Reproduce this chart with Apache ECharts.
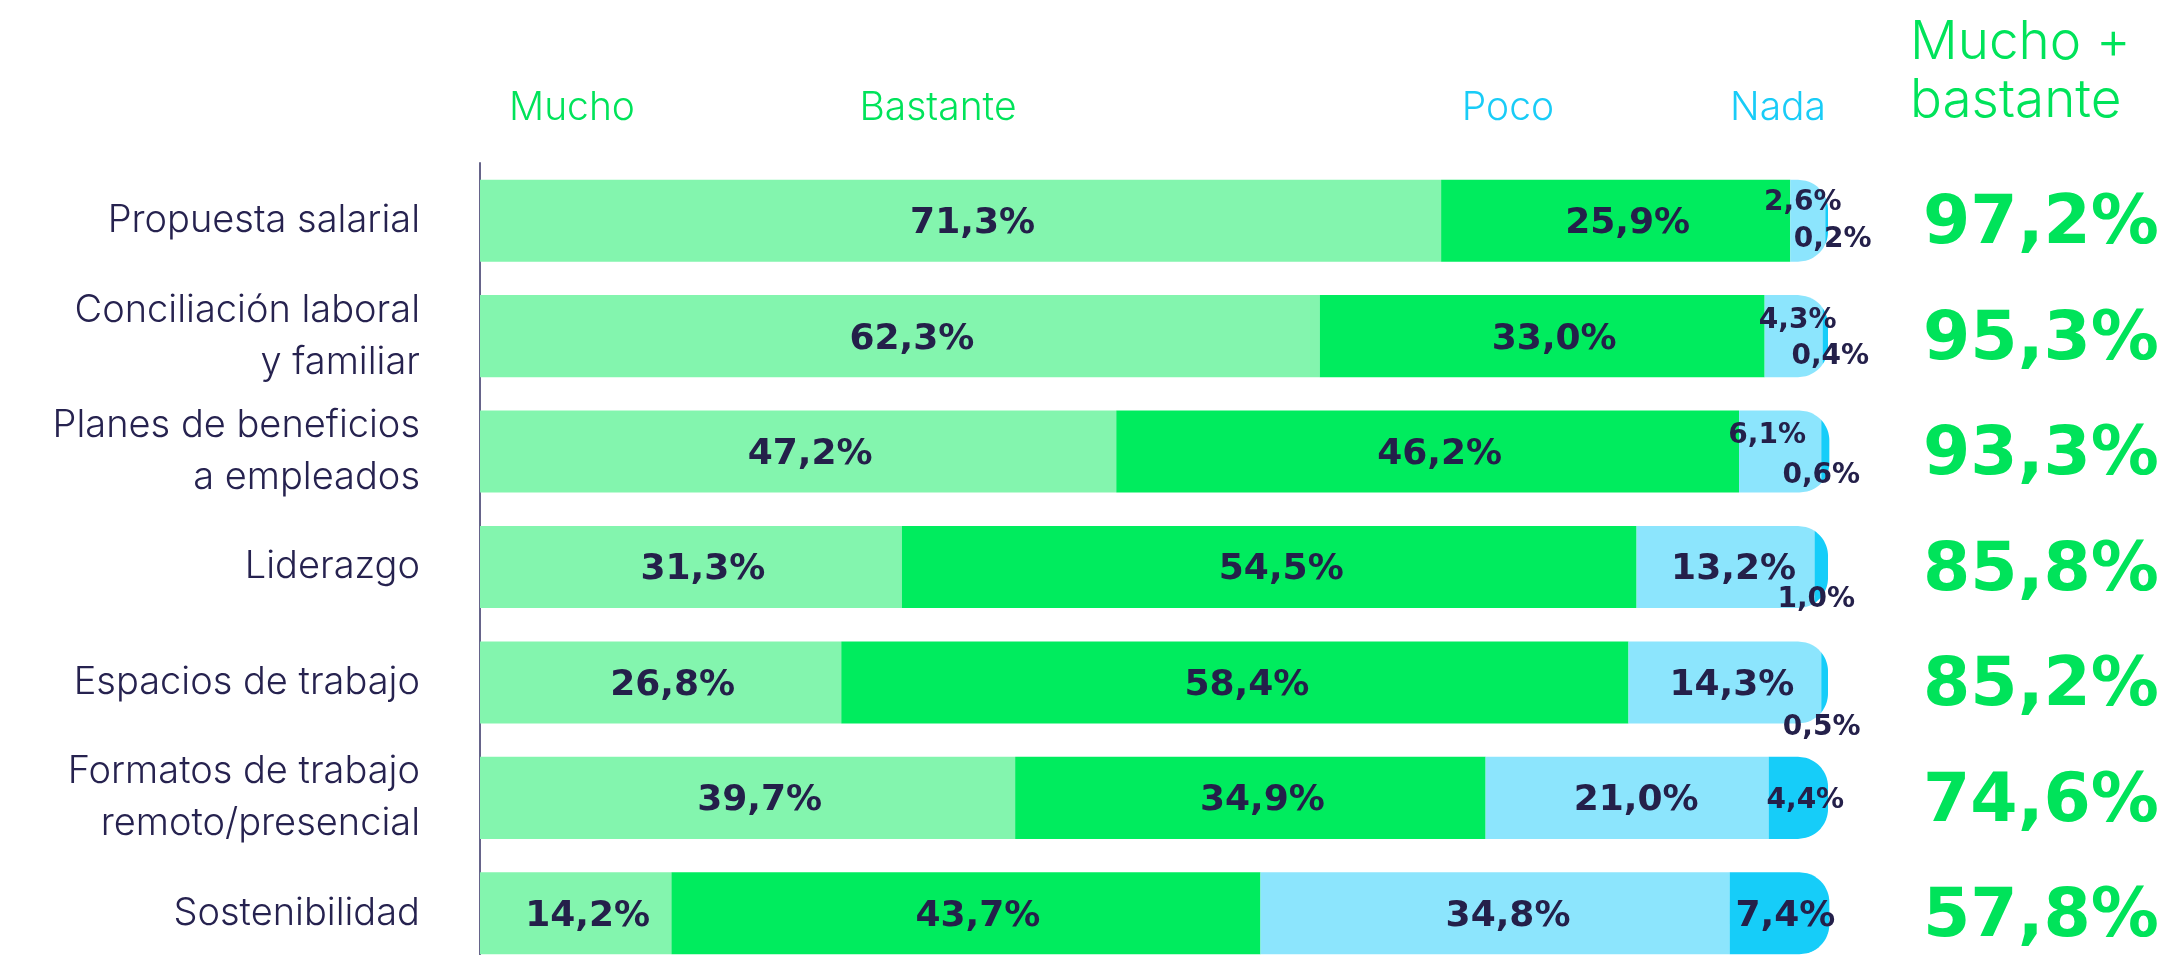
<!DOCTYPE html>
<html>
<head>
<meta charset="utf-8">
<script src="https://cdn.jsdelivr.net/npm/echarts@6/dist/echarts.min.js"></script>
<style>
  html, body { margin: 0; padding: 0; background: #ffffff; }
  #chart { width: 2177px; height: 955px; }
</style>
</head>
<body>
<div id="chart"></div>
<script>
// Importance of each workplace factor (% of respondents)
const categories = [
  'Propuesta salarial',
  'Conciliación laboral\ny familiar',
  'Planes de beneficios\na empleados',
  'Liderazgo',
  'Espacios de trabajo',
  'Formatos de trabajo\nremoto/presencial',
  'Sostenibilidad'
];
const levelNames = ['Mucho', 'Bastante', 'Poco', 'Nada'];
const mucho    = [71.3, 62.3, 47.2, 31.3, 26.8, 39.7, 14.2];
const bastante = [25.9, 33.0, 46.2, 54.5, 58.4, 34.9, 43.7];
const poco     = [2.6, 4.3, 6.1, 13.2, 14.3, 21.0, 34.8];
const nada     = [0.2, 0.4, 0.6, 1.0, 0.5, 4.4, 7.4];
const muchoBastante = [97.2, 95.3, 93.3, 85.8, 85.2, 74.6, 57.8];

// Styling
const levelColors = ['#83F5AE', '#00EC5E', '#8CE5FD', '#16CDF9'];
const headerColors = ['#00E35A', '#00E35A', '#19CCF7', '#19CCF7'];
const INK = '#24204A';
const GREEN_TEXT = '#00E35A';
const BAR_RATIO = 0.711;
const CAP_RADIUS = 30;
const VALUE_FONT = 'DejaVu Sans';
const THIN_FONT = 'Inter';
const THIN_WEIGHT = 300;
// label nudges in px [dx, dy] for the two right-hand levels
const labelShift = {
  2: [[-5, -21], [4, -18], [-13, -19], [8, 0], [7, 0], [9, 0], [13, 0]],
  3: [[6, 16], [5, 18], [-4, 21], [-5, 30], [-3, 42], [7, 0], [6, 0]]
};
const TEXT_BASELINE_FIX = 3;

const levels = [mucho, bastante, poco, nada];
const rowTotals = categories.map((_, i) => levels.reduce((s, arr) => s + arr[i], 0));

function fmt(v) { return v.toFixed(1).replace('.', ',') + '%'; }

// one segment, clipped to a bar whose right end is rounded
function makeRenderer(level) {
  return function (params, api) {
    const row = api.value(0);
    const start = api.value(1), end = api.value(2), total = api.value(3), val = api.value(4);
    const p0 = api.coord([start, row]);
    const p1 = api.coord([end, row]);
    const pT = api.coord([total, row]);
    const h = api.size([0, 1])[1] * BAR_RATIO;
    const yT = p0[1] - h / 2, yB = p0[1] + h / 2;
    const x0 = p0[0], x1 = p1[0], xEnd = pT[0];
    const R = Math.min(CAP_RADIUS, h / 2);
    const capX = function (y) {
      let dy = 0;
      if (y < yT + R) dy = yT + R - y;
      else if (y > yB - R) dy = y - (yB - R);
      else return xEnd;
      return xEnd - R + Math.sqrt(Math.max(0, R * R - dy * dy));
    };
    const pts = [[x0, yT]];
    const N = 80;
    for (let k = 0; k <= N; k++) {
      const y = yT + (yB - yT) * k / N;
      pts.push([Math.max(x0, Math.min(x1, capX(y))), y]);
    }
    pts.push([x0, yB]);

    const small = val < 7;
    let dx = 12, dy = 0;
    if (labelShift[level]) { dx = labelShift[level][row][0]; dy = labelShift[level][row][1]; }
    const cx = (x0 + x1) / 2 + dx;
    const cy = p0[1] + dy + TEXT_BASELINE_FIX;
    return {
      type: 'group',
      children: [
        { type: 'polygon', shape: { points: pts }, style: { fill: levelColors[level] } },
        {
          type: 'text', z2: 100,
          style: {
            text: fmt(val), x: cx, y: cy,
            align: 'center', verticalAlign: 'middle',
            textAlign: 'center', textVerticalAlign: 'middle',
            fontFamily: VALUE_FONT, fontWeight: 'bold', fontSize: small ? 28 : 36,
            fill: INK
          }
        }
      ]
    };
  };
}

const segmentSeries = levels.map((arr, level) => {
  const data = arr.map((v, i) => {
    let before = 0;
    for (let l = 0; l < level; l++) before += levels[l][i];
    return [i, before, before + v, rowTotals[i], v];
  });
  return {
    type: 'custom',
    name: levelNames[level],
    renderItem: makeRenderer(level),
    encode: { x: [1, 2], y: 0 },
    data: data,
    silent: true
  };
});

const totalSeries = {
  type: 'custom',
  name: 'Mucho + bastante',
  encode: { x: 1, y: 0 },
  data: muchoBastante.map((v, i) => [i, 0, v]),
  silent: true,
  renderItem: function (params, api) {
    const p = api.coord([0, api.value(0)]);
    return {
      type: 'text',
      style: {
        text: fmt(api.value(2)), x: api.getWidth() - 136, y: p[1] + 5,
        align: 'center', verticalAlign: 'middle',
        textAlign: 'center', textVerticalAlign: 'middle',
        fontFamily: VALUE_FONT, fontWeight: 'bold', fontSize: 68,
        fill: GREEN_TEXT
      }
    };
  }
};

const headerX = [572, 938, 1508, 1778];
const headerGraphics = levelNames.map((name, i) => ({
  type: 'text', x: headerX[i], y: 108,
  style: {
    text: name, x: 0, y: 0,
    align: 'center', verticalAlign: 'middle',
    textAlign: 'center', textVerticalAlign: 'middle',
    fontFamily: THIN_FONT, fontWeight: THIN_WEIGHT, fontSize: 39, fill: headerColors[i]
  }
}));

const chart = echarts.init(document.getElementById('chart'), null, { renderer: 'canvas' });
chart.setOption({
  backgroundColor: '#ffffff',
  animation: false,
  grid: { left: 480, right: 349, top: 163, bottom: -16, outerBoundsMode: 'none' },
  xAxis: {
    type: 'value', min: 0, max: 100,
    show: false
  },
  yAxis: {
    type: 'category', data: categories, inverse: true,
    axisLine: { show: true, lineStyle: { color: '#66648A', width: 2 } },
    axisTick: { show: false },
    splitLine: { show: false },
    axisLabel: {
      margin: 60, align: 'right',
      fontFamily: THIN_FONT, fontWeight: THIN_WEIGHT, fontSize: 38, lineHeight: 52,
      color: '#26224F'
    }
  },
  graphic: headerGraphics.concat([
    {
      type: 'text', x: 1910, y: 72,
      style: {
        text: 'Mucho +\nbastante', x: 0, y: 0,
        align: 'left', verticalAlign: 'middle',
        textAlign: 'left', textVerticalAlign: 'middle',
        fontFamily: THIN_FONT, fontWeight: THIN_WEIGHT, fontSize: 53, lineHeight: 58,
        fill: GREEN_TEXT
      }
    }
  ]),
  series: segmentSeries.concat([totalSeries])
});
</script>
</body>
</html>
